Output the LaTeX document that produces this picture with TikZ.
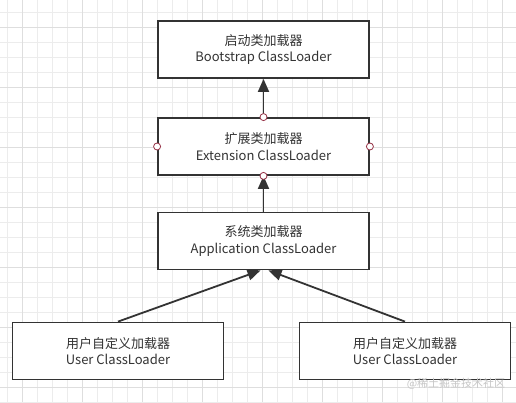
\documentclass[tikz,border=0pt]{standalone}
\usepackage{fontspec}
\setmainfont{Noto Sans CJK SC}
\usetikzlibrary{arrows.meta}
\definecolor{cline}{RGB}{51,51,51}
\definecolor{cgrid}{RGB}{236,236,236}
\definecolor{cgridmaj}{RGB}{222,222,222}
\definecolor{cport}{RGB}{150,50,70}
\tikzset{
  loader/.style={draw=cline,line width=1.8pt,fill=white,minimum width=211pt,minimum height=57pt,
    inner sep=0pt,align=center,text=cline,font=\fontsize{13}{16.5}\selectfont},
  parent/.style={draw=cline,line width=1.8pt,-{Triangle[length=13pt,width=11pt]}},
  port/.style={circle,draw=cport,fill=white,line width=0.8pt,minimum size=7pt,inner sep=0pt}
}

\begin{document}
\begin{tikzpicture}[x=1pt,y=-1pt]
    \useasboundingbox (0,0) rectangle (516,402);
    \fill[white] (0,0) rectangle (516,402);
    % grid
    \foreach \i in {0,...,34} \draw[cgrid,line width=0.8pt] ({7.5+15*\i},0) -- ++(0,402);
    \foreach \i in {0,...,26} \draw[cgrid,line width=0.8pt] (0,{12.5+15*\i}) -- ++(516,0);
    \foreach \i in {0,...,8} \draw[cgridmaj,line width=0.8pt] ({22.5+60*\i},0) -- ++(0,402);
    \foreach \i in {0,...,6} \draw[cgridmaj,line width=0.8pt] (0,{27.5+60*\i}) -- ++(516,0);
    % loaders
    \node[loader] (boot) at (263.5,49.5) {启动类加载器\\Bootstrap ClassLoader};
    \node[loader] (ext)  at (263.5,146.5) {扩展类加载器\\Extension ClassLoader};
    \node[loader] (app)  at (263.5,241) {系统类加载器\\Application ClassLoader};
    \node[loader] (userl) at (118,351) {用户自定义加载器\\User ClassLoader};
    \node[loader] (userr) at (405,351) {用户自定义加载器\\User ClassLoader};
    % delegation
    \draw[parent] (ext.north) -- (boot.south);
    \draw[parent] (app.north) -- (ext.south);
    \draw[parent] (userl.north) -- ([xshift=-3pt]app.south);
    \draw[parent] (userr.north) -- ([xshift=5pt]app.south);
    % ports
    \foreach \a in {north,south,west,east} \node[port] (ext-\a) at (ext.\a) {};
    \node[text=black!22,font=\fontsize{11}{13}\selectfont] (mark) at (456,384) {@稀土掘金技术社区};
\end{tikzpicture}
\end{document}
